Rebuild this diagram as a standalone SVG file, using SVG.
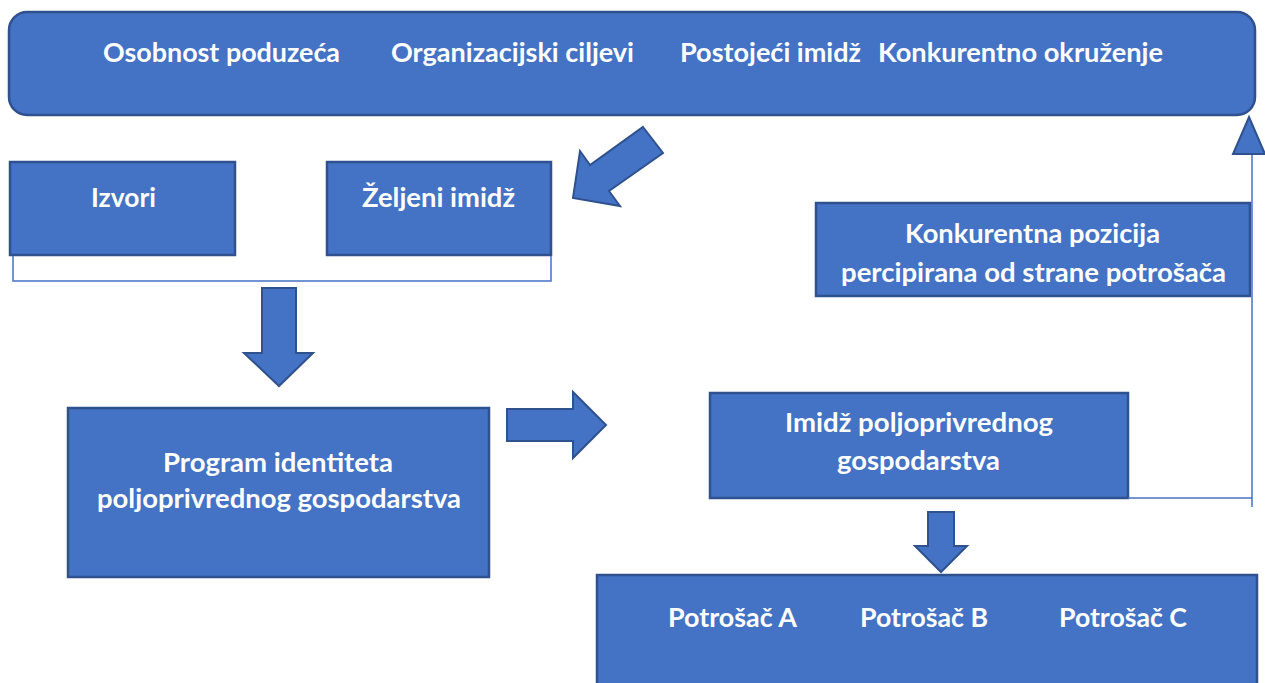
<svg xmlns="http://www.w3.org/2000/svg" width="1265" height="683" viewBox="0 0 1265 683">
<style>
.box{fill:#4472C4;stroke:#2F528F;stroke-width:2.5}
.arr{fill:#4472C4;stroke:#2F528F;stroke-width:2;stroke-linejoin:miter}
.ln{fill:none;stroke:#4472C4;stroke-width:1.5}
text{font-family:Lato,"Open Sans","Liberation Sans",sans-serif;font-weight:bold;font-size:26px;fill:#FFFFFF;text-anchor:middle}
</style>
<rect width="1265" height="683" fill="#FFFFFF"/>
<g id="top">
<rect class="box" x="9" y="12" width="1246" height="103" rx="18" ry="18"/>
<text x="221.5" y="62" textLength="237" lengthAdjust="spacingAndGlyphs">Osobnost poduzeća</text>
<text x="512.5" y="62" textLength="243" lengthAdjust="spacingAndGlyphs">Organizacijski ciljevi</text>
<text x="770.5" y="62" textLength="181" lengthAdjust="spacingAndGlyphs">Postojeći imidž</text>
<text x="1020.5" y="62" textLength="285" lengthAdjust="spacingAndGlyphs">Konkurentno okruženje</text>
</g>
<g id="izvori">
<rect class="box" x="10" y="162" width="225" height="93"/>
<text x="123.5" y="207" textLength="65" lengthAdjust="spacingAndGlyphs">Izvori</text>
</g>
<g id="zeljeni">
<rect class="box" x="327" y="162" width="224" height="93"/>
<text x="438.5" y="207" textLength="153" lengthAdjust="spacingAndGlyphs">Željeni imidž</text>
</g>
<g id="konkurentna">
<rect class="box" x="816" y="203" width="434" height="93"/>
<text x="1032.5" y="243" textLength="255" lengthAdjust="spacingAndGlyphs">Konkurentna pozicija</text>
<text x="1033.5" y="282" textLength="385" lengthAdjust="spacingAndGlyphs">percipirana od strane potrošača</text>
</g>
<g id="program">
<rect class="box" x="68" y="408" width="421" height="169"/>
<text x="278" y="472" textLength="230" lengthAdjust="spacingAndGlyphs">Program identiteta</text>
<text x="279" y="508" textLength="364" lengthAdjust="spacingAndGlyphs">poljoprivrednog gospodarstva</text>
</g>
<g id="imidz">
<rect class="box" x="710" y="393" width="418" height="105"/>
<text x="919" y="432" textLength="268" lengthAdjust="spacingAndGlyphs">Imidž poljoprivrednog</text>
<text x="918.5" y="470" textLength="163" lengthAdjust="spacingAndGlyphs">gospodarstva</text>
</g>
<g id="potrosaci">
<rect class="box" x="597" y="575" width="660" height="120"/>
<text x="732.5" y="627" textLength="129" lengthAdjust="spacingAndGlyphs">Potrošač A</text>
<text x="924" y="627" textLength="128" lengthAdjust="spacingAndGlyphs">Potrošač B</text>
<text x="1123" y="627" textLength="128" lengthAdjust="spacingAndGlyphs">Potrošač C</text>
</g>
<g id="connectors">
<polygon class="arr" points="643,127 663,153 609,191 620,206 573,198 580,151 590,165"/>
<polyline class="ln" points="13,256 13,281 551,281 551,256"/>
<polygon class="arr" points="262,288 296,288 296,353 313,353 279,386 244,353 262,353"/>
<polygon class="arr" points="507,409 573,409 573,392 606,425 573,458 573,441 507,441"/>
<polygon class="arr" points="928,512 954,512 954,546 967,546 941,572 915,546 928,546"/>
<polyline class="ln" points="1128,498 1252,498"/>
<line class="ln" x1="1252" y1="507" x2="1252" y2="154"/>
<polygon class="arr" points="1249,117 1265,154 1233,154"/>
</g>
</svg>
